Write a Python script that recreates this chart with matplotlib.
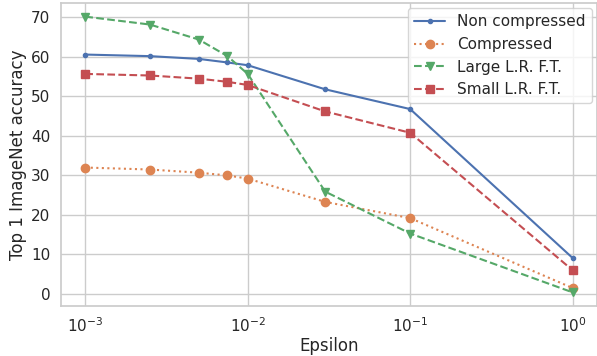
import numpy as np
import matplotlib
matplotlib.use("Agg")
import matplotlib.pyplot as plt
import seaborn as sns

sns.set_theme(style="whitegrid")

# Data
epsilon = [0.001, 0.0025, 0.005, 0.0075, 0.01, 0.03, 0.1, 1.0]
non_compressed = [60.5, 60.1, 59.4, 58.5, 57.8, 51.7, 46.7, 9.0]
compressed = [31.9, 31.4, 30.6, 29.9, 29.1, 23.2, 19.1, 1.4]
large_lr_ft = [70.1, 68.1, 64.3, 60.1, 55.6, 25.8, 15.2, 0.3]
small_lr_ft = [55.6, 55.2, 54.4, 53.6, 52.8, 46.1, 40.7, 5.9]

colors = sns.color_palette("deep")

fig, ax = plt.subplots(figsize=(5.97, 3.56), dpi=100)
ax.plot(epsilon, non_compressed, marker=".", linestyle="-", color=colors[0], label="Non compressed")
ax.plot(epsilon, compressed, marker="o", linestyle=":", color=colors[1], label="Compressed")
ax.plot(epsilon, large_lr_ft, marker="v", linestyle="--", color=colors[2], label="Large L.R. F.T.")
ax.plot(epsilon, small_lr_ft, marker="s", linestyle="--", color=colors[3], label="Small L.R. F.T.")

ax.set_xscale("log")
ax.tick_params(axis="both", pad=plt.rcParams["xtick.major.pad"] - 2)
ax.set_xlabel("Epsilon", labelpad=1.5)
ax.set_ylabel("Top 1 ImageNet accuracy", labelpad=3)
ax.legend(loc="upper right", borderaxespad=0.35)
fig.subplots_adjust(left=0.102, right=1.0, top=0.992, bottom=0.14)
plt.savefig("out.png")
